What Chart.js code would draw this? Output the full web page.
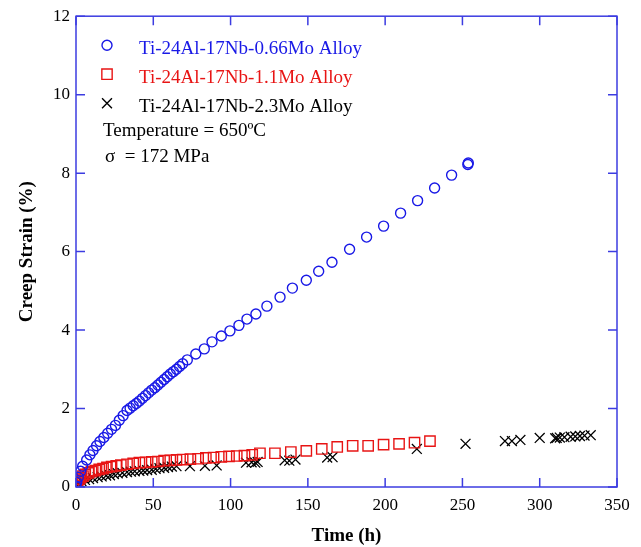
<!DOCTYPE html>
<html>
<head>
<meta charset="utf-8">
<script src="https://cdn.jsdelivr.net/npm/chart.js@4.4.0/dist/chart.umd.min.js"></script>
<style>
  body { margin: 0; background: #fff; }
  #wrap { width: 641px; height: 547px; }
</style>
</head>
<body>
<div id="wrap"><canvas id="creepChart"></canvas></div>
<script>
// data
const xTicks = [0, 50, 100, 150, 200, 250, 300, 350];
const yTicks = [0, 2, 4, 6, 8, 10, 12];

const seriesNames = ["Ti-24Al-17Nb-0.66Mo Alloy", "Ti-24Al-17Nb-1.1Mo Alloy", "Ti-24Al-17Nb-2.3Mo Alloy"];
const noteLines = ["Temperature = 650ºC", "σ  = 172 MPa"];

const time066 = [0, 0.5, 1.5, 3, 4.3, 6.9, 9, 11, 13.3, 15.5, 18, 20.5, 23, 25.5, 28, 30.5, 33, 35, 37, 39, 41, 43, 45, 47, 49, 51, 53, 55, 57, 59, 61, 63, 65, 67, 69, 72, 77.5, 83, 88, 94, 99.6, 105.4, 110.6, 116.4, 123.5, 132, 140, 149, 157, 165.6, 177, 188, 199, 210, 221, 232, 243, 253.5, 253.8];
const strain066 = [0.02, 0.12, 0.25, 0.4, 0.53, 0.69, 0.82, 0.93, 1.05, 1.16, 1.26, 1.37, 1.47, 1.57, 1.7, 1.82, 1.95, 2.01, 2.07, 2.13, 2.19, 2.26, 2.33, 2.4, 2.47, 2.53, 2.6, 2.67, 2.74, 2.81, 2.88, 2.94, 3.0, 3.07, 3.14, 3.24, 3.39, 3.52, 3.7, 3.85, 3.98, 4.12, 4.28, 4.41, 4.61, 4.84, 5.07, 5.27, 5.5, 5.73, 6.06, 6.37, 6.65, 6.98, 7.3, 7.62, 7.95, 8.22, 8.26];

const time11 = [0, 0.5, 1, 2, 3, 4.5, 6, 8, 10, 12.5, 15, 17.5, 20, 23, 26, 29, 33, 37, 41, 45, 49, 53, 57, 61, 65, 69, 74, 79, 84, 89, 94, 99, 104, 109, 114, 119, 128.7, 139, 149, 159, 169, 179, 189, 199, 209, 219, 229];
const strain11 = [0.02, 0.1, 0.15, 0.2, 0.24, 0.28, 0.32, 0.36, 0.39, 0.42, 0.45, 0.47, 0.5, 0.52, 0.54, 0.56, 0.58, 0.6, 0.62, 0.63, 0.64, 0.65, 0.67, 0.68, 0.69, 0.7, 0.71, 0.72, 0.74, 0.75, 0.77, 0.78, 0.79, 0.8, 0.82, 0.86, 0.86, 0.89, 0.92, 0.97, 1.02, 1.05, 1.05, 1.08, 1.1, 1.13, 1.17];

const time23 = [0, 0.5, 1, 2, 3.5, 5.8, 8.5, 11, 14, 16.6, 19.5, 22, 24.5, 27, 30, 33, 35.5, 38, 41, 43.5, 46, 49, 51.5, 54, 57, 59.5, 62, 65, 73.7, 83.4, 91, 110, 113.6, 116, 117.5, 135, 138, 142, 162.5, 166, 220.5, 252, 277.5, 282, 287.5, 300, 310, 311, 313, 316, 320, 323, 326, 329, 333];
const strain23 = [0.02, 0.06, 0.09, 0.12, 0.15, 0.18, 0.2, 0.23, 0.25, 0.27, 0.29, 0.3, 0.33, 0.35, 0.36, 0.38, 0.39, 0.4, 0.41, 0.42, 0.43, 0.44, 0.46, 0.48, 0.49, 0.51, 0.52, 0.53, 0.53, 0.54, 0.55, 0.62, 0.63, 0.62, 0.64, 0.68, 0.67, 0.7, 0.75, 0.76, 0.97, 1.1, 1.17, 1.17, 1.2, 1.25, 1.24, 1.25, 1.26, 1.27, 1.28, 1.29, 1.3, 1.31, 1.32];

const blue = 'rgb(25,25,230)';
const red = 'rgb(232,20,20)';
const black = '#000';
const axisBlue = 'rgb(60,60,225)';
const serif = '"Liberation Serif", "Times New Roman", serif';

const toPoints = (xs, ys) => xs.map((x, i) => ({ x: x, y: ys[i] }));

// frame on all four sides, with inward tick marks
const framePlugin = {
  id: 'frame',
  afterDatasetsDraw(chart) {
    const ctx = chart.ctx;
    const a = chart.chartArea;
    const xs = chart.scales.x;
    const ys = chart.scales.y;
    ctx.save();
    ctx.strokeStyle = axisBlue;
    ctx.lineWidth = 1.5;
    ctx.strokeRect(a.left, a.top, a.right - a.left, a.bottom - a.top);
    ctx.beginPath();
    xTicks.forEach(v => {
      const px = xs.getPixelForValue(v);
      ctx.moveTo(px, a.bottom); ctx.lineTo(px, a.bottom - 9);
      ctx.moveTo(px, a.top); ctx.lineTo(px, a.top + 9);
    });
    yTicks.forEach(v => {
      const py = ys.getPixelForValue(v);
      ctx.moveTo(a.left, py); ctx.lineTo(a.left + 9, py);
      ctx.moveTo(a.right, py); ctx.lineTo(a.right - 9, py);
    });
    ctx.stroke();
    ctx.restore();
  }
};

// legend and test conditions written inside the plot
const notePlugin = {
  id: 'notes',
  afterDraw(chart) {
    const ctx = chart.ctx;
    const a = chart.chartArea;
    ctx.save();
    ctx.font = '19px ' + serif;
    ctx.textBaseline = 'middle';
    const colors = [blue, red, black];
    chart.data.datasets.forEach((ds, i) => {
      const y = a.top + 31 + i * 29;
      const mx = a.left + 31;
      ctx.strokeStyle = colors[i];
      ctx.fillStyle = 'rgba(0,0,0,0)';
      ctx.lineWidth = 1.4;
      Chart.helpers.drawPoint(ctx, { pointStyle: ds.pointStyle, radius: ds.pointRadius, borderWidth: 1.4 }, mx, y - 2);
      ctx.fillStyle = colors[i];
      ctx.fillText(seriesNames[i], a.left + 63, y + 2);
    });
    ctx.fillStyle = black;
    ctx.fillText(noteLines[0], a.left + 27, a.top + 115);
    ctx.fillText(noteLines[1], a.left + 29, a.top + 141);
    ctx.restore();
  }
};

new Chart(document.getElementById('creepChart'), {
  type: 'scatter',
  data: {
    datasets: [
      {
        label: seriesNames[0],
        data: toPoints(time066, strain066),
        pointStyle: 'circle',
        pointRadius: 5,
        borderColor: blue,
        backgroundColor: 'transparent',
        borderWidth: 1.4
      },
      {
        label: seriesNames[1],
        data: toPoints(time11, strain11),
        pointStyle: 'rect',
        pointRadius: 7.3,
        borderColor: red,
        backgroundColor: 'transparent',
        borderWidth: 1.4
      },
      {
        label: seriesNames[2],
        data: toPoints(time23, strain23),
        pointStyle: 'crossRot',
        pointRadius: 7,
        borderColor: black,
        backgroundColor: 'transparent',
        borderWidth: 1.3
      }
    ]
  },
  options: {
    responsive: true,
    maintainAspectRatio: false,
    animation: false,
    layout: { padding: { top: 16, right: 24, left: 0, bottom: 0 } },
    plugins: {
      legend: { display: false },
      tooltip: { enabled: false }
    },
    scales: {
      x: {
        type: 'linear',
        min: 0,
        max: 350,
        afterFit: s => { s.height = 60; },
        afterBuildTicks: s => { s.ticks = xTicks.map(v => ({ value: v })); },
        grid: { display: false, drawTicks: false },
        border: { display: false },
        ticks: { color: black, padding: 8, font: { family: serif, size: 17 } },
        title: {
          display: true,
          text: 'Time (h)',
          color: black,
          padding: { top: 8, bottom: 0 },
          font: { family: serif, size: 19, weight: 'bold' }
        }
      },
      y: {
        type: 'linear',
        min: 0,
        max: 12,
        afterFit: s => { s.width = 76; },
        afterBuildTicks: s => { s.ticks = yTicks.map(v => ({ value: v })); },
        grid: { display: false, drawTicks: false },
        border: { display: false },
        ticks: { color: black, padding: 6, font: { family: serif, size: 17 } },
        title: {
          display: true,
          text: 'Creep Strain (%)',
          color: black,
          padding: { top: 16, bottom: 0 },
          font: { family: serif, size: 19, weight: 'bold' }
        }
      }
    }
  },
  plugins: [framePlugin, notePlugin]
});
</script>
</body>
</html>
